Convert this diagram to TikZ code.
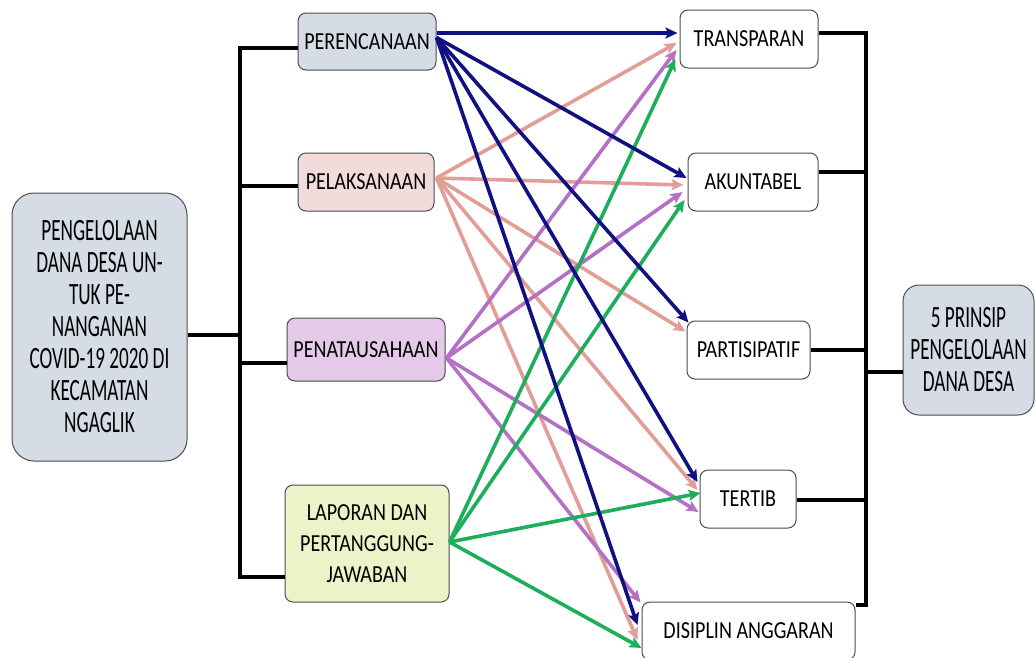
\documentclass[tikz,border=0pt]{standalone}
\usepackage{fontspec}
\setmainfont{Carlito}
\newfontfamily\boxfont[FakeStretch=0.82]{Carlito}
\newfontfamily\tallfont[FakeStretch=0.62]{Carlito}
\usetikzlibrary{arrows.meta,calc}

\definecolor{fillgray}{RGB}{214,220,229}
\definecolor{fillpink}{RGB}{242,220,219}
\definecolor{fillpurple}{RGB}{228,201,232}
\definecolor{fillgreen}{RGB}{235,244,200}
\definecolor{cnavy}{RGB}{16,16,128}
\definecolor{cpink}{RGB}{226,158,150}
\definecolor{cpurple}{RGB}{180,112,198}
\definecolor{cgreen}{RGB}{28,174,90}

\begin{document}
\begin{tikzpicture}[x=1pt,y=-1pt,
  box/.style={draw=black!70, line width=1pt, rounded corners=8pt, align=center,
    inner sep=0pt, fill=white, font=\boxfont\fontsize{24.5}{31}\selectfont},
  bigbox/.style={box, rounded corners=22pt, font=\tallfont\fontsize{31}{32}\selectfont},
  link/.style={line width=4pt, line join=miter},
  arr/.style={line width=3.6pt, -{Stealth[length=12pt,width=11pt,inset=2.5pt]}}
]
\useasboundingbox (0,0) rectangle (1036,657);

% left column
\node[bigbox, fill=fillgray, minimum width=175pt, minimum height=268pt] (src) at (99.5,327)
  {PENGELOLAAN\\DANA DESA UN-\\TUK PE-\\NANGANAN\\COVID-19 2020 DI\\KECAMATAN\\NGAGLIK};

% stages
\node[box, fill=fillgray,   minimum width=138pt, minimum height=57pt]  (per) at (367,41.5)  {PERENCANAAN};
\node[box, fill=fillpink,   minimum width=136pt, minimum height=58pt]  (pel) at (366,182)   {PELAKSANAAN};
\node[box, fill=fillpurple, minimum width=158pt, minimum height=63pt]  (pen) at (366,349.5) {PENATAUSAHAAN};
\node[box, fill=fillgreen,  minimum width=164pt, minimum height=117pt] (lap) at (367,543.5) {LAPORAN DAN\\PERTANGGUNG-\\JAWABAN};

% principles
\node[box, minimum width=138pt, minimum height=58pt] (tra) at (749,39)    {TRANSPARAN};
\node[box, minimum width=130pt, minimum height=58pt] (aku) at (753,182)   {AKUNTABEL};
\node[box, minimum width=123pt, minimum height=58pt] (par) at (748.5,350) {PARTISIPATIF};
\node[box, minimum width=96pt,  minimum height=58pt] (ter) at (748,499)   {TERTIB};
\node[box, minimum width=213pt, minimum height=58pt] (dis) at (748.5,631) {DISIPLIN ANGGARAN};

\node[bigbox, fill=fillgray, rounded corners=16pt, minimum width=131pt, minimum height=130pt] (pri) at (968.5,350)
  {5 PRINSIP\\PENGELOLAAN\\DANA DESA};

% left bracket
\coordinate (busL) at (240,335);
\coordinate (srcOut) at ($(src.east)+(0,8)$);
\coordinate (perIn) at ($(per.west)+(0,6.5)$);
\coordinate (pelIn) at ($(pel.west)+(0,4)$);
\coordinate (penIn) at ($(pen.west)+(0,13.5)$);
\coordinate (lapIn) at ($(lap.west)+(0,33.5)$);
\draw[link] (perIn) -| (busL) |- (lapIn);
\draw[link] (pelIn) -- (pelIn -| busL);
\draw[link] (penIn) -- (penIn -| busL);
\draw[link] (srcOut) -- (busL);

% right bracket
\coordinate (busR) at (866,372);
\coordinate (traOut) at ($(tra.east)+(0,-6)$);
\coordinate (akuOut) at ($(aku.east)+(0,-10)$);
\coordinate (parOut) at (par.east);
\coordinate (terOut) at ($(ter.east)+(0,1)$);
\coordinate (disOut) at ($(dis.east)+(0,-26)$);
\coordinate (priIn) at ($(pri.west)+(0,22)$);
\draw[link] (traOut) -| (busR) |- (disOut);
\draw[link] (akuOut) -- (akuOut -| busR);
\draw[link] (parOut) -- (parOut -| busR);
\draw[link] (terOut) -- (terOut -| busR);
\draw[link] (priIn) -- (priIn -| busR);

% pelaksanaan
\coordinate (pelS) at ($(pel.east)+(2,-4)$);
\draw[arr, cpink] (pelS) -- ($(tra.west)+(-3,4)$);
\draw[arr, cpink] (pelS) -- ($(aku.west)+(-4,3)$);
\draw[arr, cpink] (pelS) -- ($(par.north west)+(-1,11)$);
\draw[arr, cpink] (pelS) -- ($(ter.west)+(-2,-9)$);
\draw[arr, cpink] (pelS) -- ($(dis.west)+(-4,9)$);

% penatausahaan
\coordinate (penS) at ($(pen.east)+(1,8.5)$);
\draw[arr, cpurple] (penS) -- ($(tra.west)+(-3,11)$);
\draw[arr, cpurple] (penS) -- ($(aku.west)+(-5,10)$);
\draw[arr, cpurple] (penS) -- ($(ter.west)+(-1,13)$);
\draw[arr, cpurple] (penS) -- ($(dis.north west)+(-1,1)$);

% laporan dan pertanggungjawaban
\coordinate (lapS) at ($(lap.east)+(0,-1.5)$);
\draw[arr, cgreen] (lapS) -- ($(tra.west)+(-4,20)$);
\draw[arr, cgreen] (lapS) -- ($(aku.west)+(-3,18)$);
\draw[arr, cgreen] (lapS) -- ($(ter.west)+(1,-6)$);
\draw[arr, cgreen] (lapS) -- ($(dis.west)+(0,17)$);

% perencanaan
\coordinate (perS) at ($(per.east)+(0,-4)$);
\draw[arr, cnavy] ($(per.east)+(0,-8.5)$) -- ($(tra.west)+(-2,-6)$);
\draw[arr, cnavy] (perS) -- ($(aku.west)+(-1,-4)$);
\draw[arr, cnavy] (perS) -- ($(par.north west)+(2,2)$);
\draw[arr, cnavy] (perS) -- ($(ter.west)+(-2,-17)$);
\draw[arr, cnavy] (perS) -- ($(dis.west)+(-4,-6)$);
\end{tikzpicture}
\end{document}
